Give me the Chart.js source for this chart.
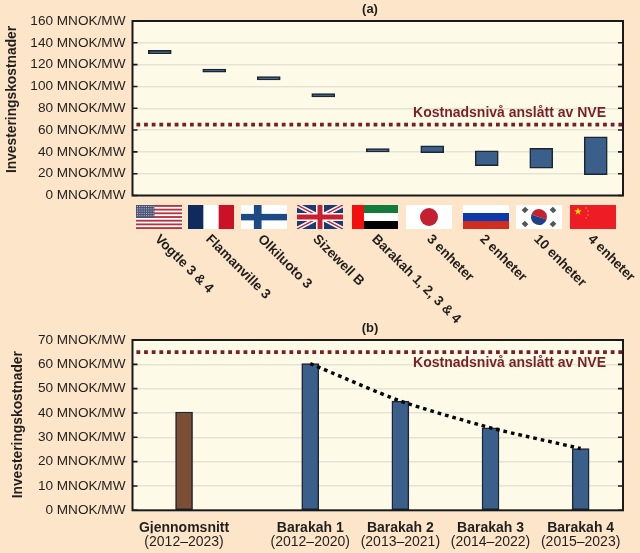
<!DOCTYPE html>
<html>
<head>
<meta charset="utf-8">
<script src="https://cdn.jsdelivr.net/npm/chart.js@4/dist/chart.umd.js"></script>
<style>
  html, body { margin: 0; padding: 0; background: #fde5c9; }
  body { width: 640px; height: 553px; position: relative; overflow: hidden; }
  canvas { position: absolute; left: 0; }
  #chartA { top: 0; }
  #chartB { top: 315px; }
</style>
</head>
<body>
<canvas id="chartA" width="640" height="330"></canvas>
<canvas id="chartB" width="640" height="238"></canvas>
<script>
// panel (a)
const plantNames = ['Vogtle 3 & 4', 'Flamanville 3', 'Olkiluoto 3', 'Sizewell B', 'Barakah 1, 2, 3 & 4',
  '3 enheter', '2 enheter', '10 enheter', '4 enheter']
const costLow = [130, 113, 106, 90.5, 40, 39.3, 27.3, 25, 19]
const costHigh = [133, 116, 109, 93.5, 43, 45.6, 41, 43.2, 53.8]
const flagCodes = ['us', 'fr', 'fi', 'gb', 'ae', 'jp', 'ru', 'kr', 'cn']

// panel (b)
const unitNames = ['Gjennomsnitt', 'Barakah 1', 'Barakah 2', 'Barakah 3', 'Barakah 4']
const unitYears = ['(2012–2023)', '(2012–2020)', '(2013–2021)', '(2014–2022)', '(2015–2023)']
const unitSlots = [0, 1.4, 2.4, 3.4, 4.4]
const unitCost = [40.4, 60.3, 44.9, 33.9, 25.4]

// shared
const nveLevel = 65
const nveLabel = 'Kostnadsnivå anslått av NVE'
const axisTitle = 'Investeringskostnader'

const FONT = '"Liberation Sans", Arial, sans-serif'
const INK = '#211f1d'
const NVE_RED = '#7a1f26'
const BLUE = '#3a5f8b'
const BROWN = '#7d4e36'
const BAR_EDGE = '#1c2530'

const mnok = (v) => v + ' MNOK/MW'

function star(ctx, cx, cy, r) {
  ctx.beginPath()
  for (let i = 0; i < 10; i++) {
    const a = -Math.PI / 2 + i * Math.PI / 5
    const q = i % 2 ? r * 0.4 : r
    ctx.lineTo(cx + q * Math.cos(a), cy + q * Math.sin(a))
  }
  ctx.closePath()
  ctx.fill()
}

function rect(ctx, color, x, y, w, h) {
  ctx.fillStyle = color
  ctx.fillRect(x, y, w, h)
}

const flagPainters = {
  us(c, x, y, w, h) {
    rect(c, '#fff', x, y, w, h)
    for (let i = 0; i < 13; i += 2) rect(c, '#b5323f', x, y + i * h / 13, w, h / 13)
    rect(c, '#4a5378', x, y, w * 0.4, h * 7 / 13)
    c.fillStyle = '#c9cbd8'
    for (let r = 0; r < 5; r++) for (let k = 0; k < 8; k++) c.fillRect(x + 1 + k * 2.25, y + 1 + r * 2.3, 1, 1)
  },
  fr(c, x, y, w, h) {
    rect(c, '#fff', x, y, w, h)
    rect(c, '#0f2a5c', x, y, w / 3, h)
    rect(c, '#cb1126', x + w * 2 / 3, y, w / 3, h)
  },
  fi(c, x, y, w, h) {
    rect(c, '#fff', x, y, w, h)
    rect(c, '#1c4a84', x, y + h * 0.37, w, h * 0.27)
    rect(c, '#1c4a84', x + w * 0.28, y, h * 0.32, h)
  },
  gb(c, x, y, w, h) {
    rect(c, '#1f3a73', x, y, w, h)
    c.save()
    c.beginPath(); c.rect(x, y, w, h); c.clip()
    c.strokeStyle = '#fff'; c.lineWidth = 4.5
    c.beginPath(); c.moveTo(x, y); c.lineTo(x + w, y + h); c.moveTo(x + w, y); c.lineTo(x, y + h); c.stroke()
    c.strokeStyle = '#c8202f'; c.lineWidth = 1.5
    c.stroke()
    c.restore()
    rect(c, '#fff', x + w / 2 - 4, y, 8, h)
    rect(c, '#fff', x, y + h / 2 - 4, w, 8)
    rect(c, '#c8202f', x + w / 2 - 2.5, y, 5, h)
    rect(c, '#c8202f', x, y + h / 2 - 2.5, w, 5)
  },
  ae(c, x, y, w, h) {
    rect(c, '#fff', x, y, w, h)
    rect(c, '#127a3a', x, y, w, h / 3)
    rect(c, '#000', x, y + h * 2 / 3, w, h / 3)
    rect(c, '#f40f0f', x, y, w * 0.26, h)
  },
  jp(c, x, y, w, h) {
    rect(c, '#fff', x, y, w, h)
    c.fillStyle = '#c5202f'
    c.beginPath(); c.arc(x + w / 2, y + h / 2, 9, 0, Math.PI * 2); c.fill()
  },
  ru(c, x, y, w, h) {
    rect(c, '#fff', x, y, w, h / 3)
    rect(c, '#0c3aa8', x, y + h / 3, w, h / 3)
    rect(c, '#d02c20', x, y + h * 2 / 3, w, h / 3)
  },
  kr(c, x, y, w, h) {
    rect(c, '#fff', x, y, w, h)
    const cx = x + w / 2, cy = y + h / 2
    c.fillStyle = '#c8202f'
    c.beginPath(); c.arc(cx, cy, 8, Math.PI * 1.1, Math.PI * 0.1); c.fill()
    c.fillStyle = '#1f3f86'
    c.beginPath(); c.arc(cx, cy, 8, Math.PI * 0.1, Math.PI * 1.1); c.fill()
    c.strokeStyle = '#555'; c.lineWidth = 5
    for (const [dx, dy] of [[-14, -7], [14, -7], [-14, 7], [14, 7]]) {
      const sx = Math.sign(dx) * 1.6, sy = Math.sign(dy) * 1.6
      c.beginPath(); c.moveTo(cx + dx - sx, cy + dy - sy); c.lineTo(cx + dx + sx, cy + dy + sy); c.stroke()
    }
  },
  cn(c, x, y, w, h) {
    rect(c, '#ee1c25', x, y, w, h)
    c.fillStyle = '#ffde00'
    star(c, x + 8, y + 6.5, 4)
    for (const [dx, dy] of [[16, 3], [18, 6], [18, 10], [16, 13]]) star(c, x + dx, y + dy, 1)
  }
}

// left edge of every flag and start of every slanted name
const flagLeft = [136, 188, 241, 297, 352, 406, 463, 516, 570]
const nameLeft = [155, 206, 258, 313, 372, 427, 480, 534, 588]

const flagRow = {
  id: 'flagRow',
  afterDraw(chart) {
    const c = chart.ctx
    flagCodes.forEach((code, i) => flagPainters[code](c, flagLeft[i], 205, 46, 24))
    c.save()
    c.fillStyle = INK
    c.font = 'bold 13.5px ' + FONT
    c.textBaseline = 'middle'
    plantNames.forEach((name, i) => {
      c.save()
      c.translate(nameLeft[i] + 2, 237)
      c.rotate(Math.PI / 4)
      c.fillText(name, 0, 0)
      c.restore()
    })
    c.restore()
  }
}

// plot background, black frame with inward ticks, panel letter, axis title and NVE text
const panelFrame = {
  id: 'panelFrame',
  beforeDraw(chart) {
    const { left, top, width, height } = chart.chartArea
    chart.ctx.fillStyle = '#fdfae8'
    chart.ctx.fillRect(left, top, width, height)
  },
  afterDraw(chart, args, opts) {
    const c = chart.ctx
    const { left, right, top, bottom } = chart.chartArea
    const y = chart.scales.y
    c.save()
    c.strokeStyle = '#1a1a1a'
    c.lineWidth = 1.6
    y.ticks.forEach((t) => {
      const py = y.getPixelForValue(t.value)
      c.beginPath()
      c.moveTo(left, py); c.lineTo(left + 5, py)
      c.moveTo(right, py); c.lineTo(right - 5, py)
      c.stroke()
    })
    c.lineWidth = 2
    c.strokeRect(left, top, right - left, bottom - top)
    c.fillStyle = INK
    c.font = 'bold 13px ' + FONT
    c.textAlign = 'center'
    c.textBaseline = 'middle'
    c.fillText(opts.letter, 370, opts.letterY)
    c.save()
    c.translate(opts.titleX, opts.titleY)
    c.rotate(-Math.PI / 2)
    c.font = 'bold 13.8px ' + FONT
    c.fillText(axisTitle, 0, 0)
    c.restore()
    c.fillStyle = NVE_RED
    c.font = 'bold 14px ' + FONT
    c.textAlign = 'right'
    c.fillText(nveLabel, 606, y.getPixelForValue(opts.labelAt))
    c.restore()
  }
}

const nveDataset = () => ({
  type: 'line',
  xAxisID: 'xLine',
  data: [{ x: 0.008, y: nveLevel }, { x: 1, y: nveLevel }],
  borderColor: NVE_RED,
  borderWidth: 3.6,
  borderDash: [3.8, 3.85],
  pointRadius: 0,
  order: 0
})

const yAxis = (max, step) => ({
  min: 0,
  max: max,
  afterFit: (s) => { s.width = 132.5 },
  grid: { color: '#e6e3d5', lineWidth: 1.5, drawTicks: false },
  border: { display: false },
  ticks: {
    stepSize: step,
    padding: 7,
    color: INK,
    font: { family: FONT, size: 13.6 },
    callback: mnok
  }
})

const hiddenLineAxis = () => ({ type: 'linear', display: false, min: 0, max: 1, offset: false })

new Chart(document.getElementById('chartA'), {
  type: 'bar',
  data: {
    labels: plantNames,
    datasets: [
      nveDataset(),
      {
        data: costLow.map((low, i) => [low, costHigh[i]]),
        backgroundColor: BLUE,
        borderColor: BAR_EDGE,
        borderWidth: 1.5,
        borderSkipped: false,
        barThickness: 23,
        grouped: false,
        order: 1
      }
    ]
  },
  options: {
    responsive: false,
    animation: false,
    layout: { padding: { right: 17, top: 21 } },
    plugins: {
      legend: { display: false },
      tooltip: { enabled: false },
      panelFrame: { letter: '(a)', letterY: 9, labelAt: 75.5, titleX: 12, titleY: 99.5 }
    },
    scales: {
      x: {
        grid: { display: false },
        border: { display: false },
        ticks: { display: false },
        afterFit: (s) => { s.height = 134.5 }
      },
      xLine: hiddenLineAxis(),
      y: yAxis(160, 20)
    }
  },
  plugins: [panelFrame, flagRow]
})

new Chart(document.getElementById('chartB'), {
  type: 'bar',
  data: {
    labels: unitNames,
    datasets: [
      nveDataset(),
      {
        type: 'line',
        data: unitSlots.slice(1).map((s, i) => ({ x: s, y: unitCost[i + 1] })),
        borderColor: '#050505',
        borderWidth: 3.4,
        borderDash: [3.6, 4],
        tension: 0.2,
        pointRadius: 0,
        order: 0
      },
      {
        data: unitSlots.map((s, i) => ({ x: s, y: unitCost[i] })),
        backgroundColor: [BROWN, BLUE, BLUE, BLUE, BLUE],
        borderColor: BAR_EDGE,
        borderWidth: 1.5,
        borderSkipped: false,
        barThickness: 17,
        grouped: false,
        order: 1
      }
    ]
  },
  options: {
    responsive: false,
    animation: false,
    layout: { padding: { right: 17, top: 25 } },
    plugins: {
      legend: { display: false },
      tooltip: { enabled: false },
      panelFrame: { letter: '(b)', letterY: 13, labelAt: 60.3, titleX: 18, titleY: 109.7 }
    },
    scales: {
      x: {
        type: 'linear',
        offset: false,
        min: -0.572,
        max: 4.87,
        grid: { display: false, drawTicks: false },
        border: { display: false },
        afterBuildTicks: (s) => { s.ticks = unitSlots.map((v) => ({ value: v })) },
        afterFit: (s) => { s.height = 23 },
        ticks: {
          autoSkip: false,
          maxRotation: 0,
          padding: 9,
          color: INK,
          font: { family: FONT, size: 14, weight: 'bold' },
          callback: (v, i) => unitNames[i]
        }
      },
      xYears: {
        type: 'linear',
        position: 'bottom',
        offset: false,
        min: -0.572,
        max: 4.87,
        grid: { display: false, drawTicks: false },
        border: { display: false },
        afterBuildTicks: (s) => { s.ticks = unitSlots.map((v) => ({ value: v })) },
        afterFit: (s) => { s.height = 19.7 },
        ticks: {
          autoSkip: false,
          maxRotation: 0,
          padding: 0,
          color: INK,
          font: { family: FONT, size: 14 },
          callback: (v, i) => unitYears[i]
        }
      },
      xLine: hiddenLineAxis(),
      y: yAxis(70, 10)
    }
  },
  plugins: [panelFrame]
})
</script>
</body>
</html>
